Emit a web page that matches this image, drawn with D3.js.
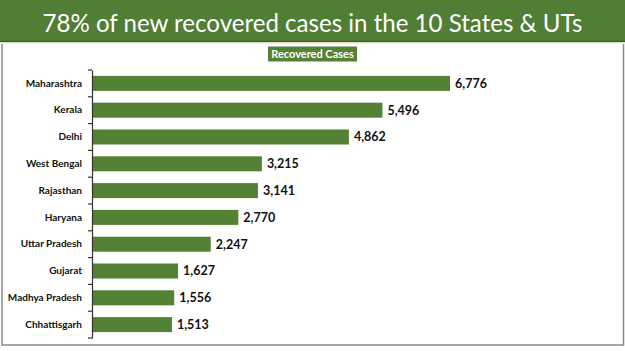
<!DOCTYPE html>
<meta charset="utf-8">
<style>
    body { margin: 0; background: #fff; }
    .catLabel { font: bold 10px Lato, sans-serif; fill: #111; }
    .valLabel { font: bold 12.5px Lato, sans-serif; fill: #111; }
</style>
<body>
<script src="https://d3js.org/d3.v7.min.js"></script>
<script>
    // chart data
    let title = "78% of new recovered cases in the 10 States & UTs";
    let seriesName = "Recovered Cases";
    let states = ["Maharashtra", "Kerala", "Delhi", "West Bengal", "Rajasthan",
                  "Haryana", "Uttar Pradesh", "Gujarat", "Madhya Pradesh", "Chhattisgarh"];
    let recovered = [6776, 5496, 4862, 3215, 3141, 2770, 2247, 1627, 1556, 1513];

    let width = 625;
    let height = 351;
    let green = "#548235";

    let svg = d3.select("body").append("svg")
        .attr("width", width)
        .attr("height", height);

    // header band
    svg.append("rect")
        .attr("x", 0).attr("y", 0)
        .attr("width", width).attr("height", 42)
        .attr("fill", "#4f7e34");
    svg.append("line")
        .attr("x1", 0).attr("x2", width)
        .attr("y1", 41.5).attr("y2", 41.5)
        .attr("stroke", "#3b6124").attr("stroke-width", 1.5);
    svg.append("line")
        .attr("x1", 0).attr("x2", width)
        .attr("y1", 43).attr("y2", 43)
        .attr("stroke", "#f6dcc4").attr("stroke-width", 1);

    let titleText = svg.append("text")
        .attr("x", width / 2)
        .attr("y", 32)
        .attr("text-anchor", "middle")
        .style("font-family", "Lato, sans-serif")
        .style("font-size", "26px")
        .attr("fill", "#fff")
        .text(title);
    // shrink the title so it spans about 540px like the reference
    let tw = titleText.node().getComputedTextLength();
    titleText.style("font-size", (26 * 540 / tw) + "px");

    // frame
    svg.append("path")
        .attr("d", "M2,44 V345 H623.5 V44")
        .attr("fill", "none")
        .attr("stroke", "#8a8a8a")
        .attr("stroke-width", 1.5);

    // legend box
    let legend = svg.append("g");
    legend.append("rect")
        .attr("x", 268).attr("y", 46.5)
        .attr("width", 89).attr("height", 15)
        .attr("fill", green);
    legend.append("text")
        .attr("x", 312.5).attr("y", 58)
        .attr("text-anchor", "middle")
        .style("font", "bold 11px Lato, sans-serif")
        .attr("fill", "#fff")
        .text(seriesName);

    // scales
    let x = d3.scaleLinear()
        .domain([0, 7000])
        .range([92, 92 + 7000 * 0.05284]);

    let y = d3.scaleBand()
        .domain(states)
        .range([70, 338])
        .paddingInner(0.44)
        .paddingOuter(0.22);

    // bars
    svg.append("g").selectAll("rect")
        .data(states)
        .join("rect")
            .attr("x", x(0))
            .attr("y", d => y(d))
            .attr("width", (d, i) => x(recovered[i]) - x(0))
            .attr("height", y.bandwidth())
            .attr("fill", green);

    // value labels
    svg.append("g").selectAll("text")
        .data(states)
        .join("text")
            .attr("class", "valLabel")
            .attr("x", (d, i) => x(recovered[i]) + 5)
            .attr("y", d => y(d) + y.bandwidth() / 2)
            .attr("dy", "0.35em")
            .text((d, i) => d3.format(",")(recovered[i]));

    // category axis
    let yAxis = svg.append("g")
        .attr("transform", "translate(" + x(0) + ",0)")
        .call(d3.axisLeft(y).tickSize(0).tickPadding(10));
    yAxis.select(".domain").attr("stroke", "#333").attr("stroke-width", 1.2);
    yAxis.selectAll(".tick text").attr("class", "catLabel");

    // tick marks on the category boundaries
    let bounds = d3.range(states.length + 1).map(i => 70 + i * (268 / states.length));
    yAxis.selectAll(".bound")
        .data(bounds)
        .join("line")
            .attr("class", "bound")
            .attr("x1", -4).attr("x2", 0)
            .attr("y1", d => d).attr("y2", d => d)
            .attr("stroke", "#333").attr("stroke-width", 1.2);
</script>
</body>
